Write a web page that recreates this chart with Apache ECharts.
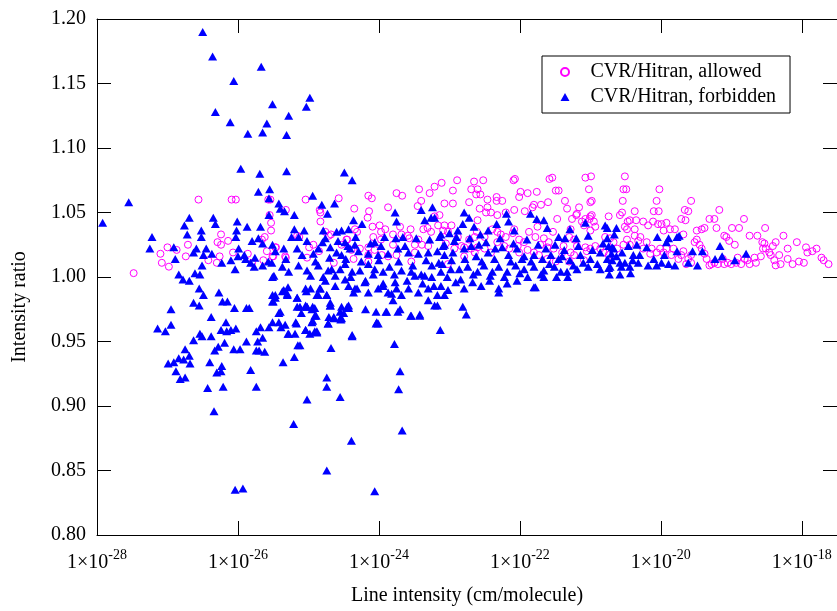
<!DOCTYPE html>
<html>
<head>
<meta charset="utf-8">
<script src="https://cdn.jsdelivr.net/npm/echarts@6/dist/echarts.min.js"></script>
<style>
html,body{margin:0;padding:0;background:#fff;}
#chart{width:837px;height:611px;}
</style>
</head>
<body>
<div id="chart"></div>
<script>
// points are [log10(line intensity), intensity ratio]
// (the x axis is a value axis over log10 of the intensity: echarts' log scale
//  rounds 1e-28 down to 0, so the exponent is plotted and labelled as 1x10^n)
var allowed = [
[-27.48,1.003],[-27.10,1.018],[-27.08,1.011],[-26.98,1.008],[-27.00,1.023],[-26.87,1.021],[-26.71,1.025],[-26.74,1.016],
[-26.56,1.060],[-26.42,1.013],[-26.30,1.011],[-26.29,1.027],[-26.24,1.033],[-26.24,1.025],[-26.26,1.016],[-26.14,1.028],
[-26.07,1.019],[-26.09,1.060],[-26.03,1.060],[-25.86,1.018],[-25.80,1.011],[-25.64,1.013],[-25.62,1.031],[-25.59,1.020],
[-25.57,1.060],[-25.54,1.060],[-25.53,1.036],[-25.53,1.042],[-25.55,1.048],[-25.51,1.016],[-25.46,1.023],[-25.32,1.052],
[-25.32,1.015],[-25.16,1.032],[-25.13,1.031],[-25.04,1.060],[-25.02,1.015],[-24.99,1.023],[-24.93,1.025],[-24.84,1.052],
[-24.83,1.050],[-24.83,1.043],[-24.76,1.035],[-24.71,1.032],[-24.68,1.033],[-24.64,1.011],[-24.57,1.061],[-24.35,1.053],
[-24.45,1.029],[-24.31,1.035],[-24.36,1.014],[-25.66,1.029],
[-24.39,1.021],[-23.97,1.029],[-23.57,1.030],[-23.49,1.025],[-23.39,1.025],[-23.30,1.024],[-25.47,1.023],[-25.50,1.016],
[-25.33,1.016],[-24.85,1.020],[-24.27,1.022],[-24.15,1.017],[-24.06,1.021],[-23.96,1.017],[-23.87,1.016],[-23.80,1.025],
[-23.75,1.017],[-23.54,1.012],[-23.49,1.019],[-24.15,1.012],
[-24.15,1.063],[-24.10,1.061],[-24.16,1.046],[-24.14,1.051],[-24.09,1.039],[-23.99,1.040],[-23.97,1.035],[-23.87,1.054],
[-23.75,1.065],[-23.67,1.063],[-23.70,1.039],[-23.55,1.037],[-23.43,1.068],[-23.40,1.059],[-23.45,1.055],[-23.28,1.065],
[-23.21,1.070],[-23.11,1.073],[-22.95,1.067],[-22.89,1.075],[-23.31,1.038],[-23.21,1.047],[-23.16,1.040],[-23.07,1.057],
[-22.95,1.057],[-22.72,1.058],[-22.65,1.074],[-22.52,1.075],[-22.69,1.068],[-22.60,1.068],[-22.62,1.064],[-22.56,1.064],
[-22.46,1.060],[-22.33,1.062],[-22.25,1.059],[-22.33,1.059],[-22.46,1.054],[-22.57,1.053],[-22.41,1.050],[-22.20,1.050],
[-22.07,1.076],[-22.09,1.075],[-21.99,1.066],[-21.89,1.065],[-22.01,1.062],[-21.76,1.066],[-21.70,1.056],[-21.82,1.054],
[-21.60,1.058],[-21.58,1.076],[-21.54,1.077],[-21.49,1.067],[-21.45,1.067],[-21.36,1.059],[-21.33,1.053],[-21.07,1.077],
[-20.99,1.078],[-21.02,1.068],[-21.00,1.058],[-20.98,1.059],[-21.16,1.054],[-21.19,1.049],[-21.26,1.045],[-20.98,1.048],
[-21.01,1.045],[-21.09,1.040],[-20.51,1.078],[-20.53,1.068],[-20.54,1.059],[-20.55,1.050],[-20.37,1.051],[-20.44,1.044],
[-20.51,1.039],[-20.74,1.047],[-20.93,1.039],[-21.28,1.037],[-21.47,1.045],[-21.53,1.035],[-21.66,1.030],[-21.87,1.035],
[-21.94,1.027],[-22.08,1.037],[-22.20,1.031],[-22.32,1.035],[-22.39,1.037],[-22.50,1.031],[-22.61,1.035],[-22.72,1.029],
[-22.88,1.031],[-23.02,1.035],[-23.05,1.026],[-23.26,1.035],[-23.37,1.037],[-23.44,1.029],[-23.59,1.032],[-23.68,1.033],
[-23.80,1.033],[-23.91,1.037],[-24.08,1.031],[-24.15,1.023],[-24.34,1.037],[-24.46,1.029],[-24.53,1.025],[-22.79,1.023],
[-22.60,1.023],[-22.41,1.019],[-22.01,1.019],[-21.71,1.025],[-21.61,1.023],[-21.05,1.020],[-20.44,1.025],[-20.37,1.037],
[-22.08,1.052],[-21.93,1.051],[-22.48,1.050],[-22.32,1.048],[-22.60,1.044],[-23.09,1.036],[-23.07,1.040],[-23.14,1.048],
[-22.97,1.040],[-21.80,1.056],[-22.64,1.031],[-22.27,1.033],[-22.10,1.034],[-22.01,1.029],[-21.78,1.031],[-21.75,1.039],
[-21.59,1.027],[-21.52,1.022],[-21.40,1.019],[-21.38,1.024],[-21.30,1.031],[-21.23,1.029],[-21.20,1.048],[-21.12,1.043],
[-21.07,1.045],[-21.00,1.047],[-20.95,1.043],[-21.00,1.036],[-21.19,1.024],[-21.07,1.023],[-21.00,1.022],[-20.93,1.024],
[-20.86,1.022],[-20.81,1.019],[-20.79,1.031],[-20.72,1.030],[-20.67,1.027],[-22.83,1.024],[-22.93,1.022],[-22.79,1.016],
[-22.69,1.022],[-22.64,1.019],[-22.50,1.022],[-22.32,1.027],[-22.22,1.024],[-22.15,1.022],[-22.03,1.024],[-21.89,1.021],
[-21.80,1.019],[-21.73,1.017],[-21.61,1.014],[-21.49,1.012],[-21.30,1.012],[-21.23,1.017],[-21.09,1.013],[-21.28,1.019],
[-23.02,1.010],
[-20.49,1.068],[-20.58,1.048],[-20.47,1.043],[-20.48,1.037],[-20.35,1.044],[-20.25,1.043],[-20.18,1.040],[-20.11,1.043],
[-20.02,1.068],[-20.06,1.059],[-20.10,1.051],[-20.03,1.051],[-20.04,1.041],[-19.99,1.041],[-19.92,1.042],[-19.96,1.036],
[-19.87,1.037],[-19.80,1.037],[-19.71,1.045],[-19.65,1.044],[-19.66,1.052],[-19.61,1.051],[-19.57,1.059],[-19.68,1.033],
[-19.49,1.036],[-19.42,1.037],[-19.38,1.038],[-19.31,1.045],[-19.24,1.045],[-19.17,1.052],[-19.21,1.038],[-19.10,1.032],
[-19.07,1.031],[-18.99,1.038],[-18.89,1.038],[-18.82,1.045],[-19.03,1.028],[-18.95,1.025],[-18.74,1.032],[-18.63,1.032],
[-18.52,1.038],[-18.56,1.027],[-18.53,1.026],[-18.37,1.027],[-18.26,1.032],[-18.20,1.022],[-18.07,1.027],[-17.94,1.023],
[-17.92,1.019],[-17.85,1.020],[-17.79,1.022],[-17.72,1.015],[-17.69,1.013],[-17.62,1.010],[-18.04,1.012],[-17.97,1.011],
[-18.13,1.010],[-18.20,1.014],[-18.32,1.017],[-18.30,1.010],[-18.39,1.013],[-18.37,1.009],[-18.46,1.019],[-18.44,1.017],
[-18.55,1.022],[-18.58,1.016],[-18.67,1.015],[-18.65,1.011],[-18.74,1.010],[-18.77,1.013],[-18.81,1.014],[-18.86,1.010],
[-18.91,1.015],[-18.93,1.011],[-19.00,1.010],[-19.05,1.011],[-19.10,1.010],[-19.12,1.014],[-19.19,1.010],[-19.24,1.011],
[-19.28,1.010],[-19.31,1.009],[-19.35,1.014],[-19.38,1.018],[-19.42,1.022],[-19.45,1.025],[-19.49,1.029],[-19.52,1.027],
[-19.57,1.017],[-19.57,1.011],[-19.61,1.014],[-19.64,1.010],[-19.68,1.020],[-19.71,1.017],[-19.75,1.014],[-19.82,1.022],
[-19.85,1.017],[-19.92,1.022],[-19.96,1.019],[-20.01,1.022],[-20.06,1.019],[-20.13,1.022],[-20.15,1.018],[-20.20,1.027],
[-20.25,1.022],[-20.29,1.031],[-20.32,1.028],[-20.37,1.032],[-20.48,1.029],[-20.53,1.025],[-20.62,1.022],[-20.67,1.019],
[-20.74,1.017],[-18.41,1.024],[-18.51,1.022]
];

var forbidden = [
[-27.92,1.042],[-27.55,1.058],[-26.50,1.190],[-26.36,1.171],[-26.06,1.152],[-26.32,1.128],[-26.11,1.120],[-25.67,1.163],
[-25.51,1.134],[-25.59,1.119],[-25.65,1.112],[-25.86,1.111],[-25.28,1.125],[-25.31,1.110],[-24.98,1.139],[-25.03,1.132],
[-25.96,1.084],[-25.31,1.082],[-25.69,1.080],[-24.49,1.081],[-24.38,1.075],[-25.71,1.066],[-25.55,1.068],[-24.94,1.063],
[-25.56,1.061],[-25.42,1.057],[-25.40,1.053],[-25.34,1.051],[-25.20,1.048],[-24.81,1.056],[-24.73,1.049],[-24.63,1.057],
[-27.14,0.960],[-27.03,0.958],[-26.95,0.975],[-26.95,0.963],[-26.99,0.933],[-26.91,0.934],[-26.88,0.927],[-26.84,0.937],
[-26.82,0.921],[-26.75,0.922],[-26.77,0.936],[-26.75,0.944],[-26.69,0.939],[-26.68,0.933],[-26.63,0.951],[-26.63,0.980],
[-26.55,0.978],[-26.55,0.991],[-26.49,0.986],[-26.54,0.956],[-26.51,0.954],[-26.38,0.969],[-26.38,0.954],[-26.40,0.934],
[-26.43,0.914],[-26.34,0.896],[-26.33,0.943],[-26.30,0.926],[-26.28,0.946],[-26.24,0.927],[-26.23,0.931],[-26.21,0.915],
[-26.27,0.988],[-26.22,0.981],[-26.15,0.981],[-26.24,0.959],[-26.19,0.949],[-26.17,0.965],[-26.16,0.958],[-26.10,0.959],
[-26.03,0.960],[-26.05,0.976],[-26.06,0.944],[-25.97,0.944],[-26.04,0.835],[-25.93,0.836],[-25.88,0.976],[-25.84,0.976],
[-25.88,0.950],[-25.82,0.928],[-25.74,0.958],[-25.72,0.950],[-25.74,0.943],[-25.70,0.943],[-25.68,0.961],[-25.65,0.953],
[-25.62,0.942],[-25.74,0.915],[-25.56,0.961],[-25.51,0.965],[-25.50,0.981],[-25.47,0.984],[-25.42,0.972],[-25.39,0.961],
[-25.36,0.934],[-25.33,0.963],[-25.29,0.956],[-25.30,0.987],[-25.37,0.989],[-25.29,0.992],[-25.21,0.886],[-25.19,0.956],
[-25.20,0.938],[-25.17,0.964],[-25.15,0.947],[-25.12,0.947],[-25.16,0.984],[-25.12,0.977],[-25.10,0.972],[-25.03,0.989],
[-25.02,0.905],[-25.04,0.959],[-25.02,0.977],[-24.98,0.956],[-24.94,0.977],[-24.94,0.966],[-24.91,0.976],[-24.89,0.970],
[-24.88,0.958],[-24.88,0.986],[-24.84,0.991],[-24.76,0.997],[-24.74,0.986],[-24.74,0.922],[-24.74,0.915],[-24.74,0.850],
[-24.72,0.964],[-24.71,0.969],[-24.69,0.978],[-24.68,0.945],[-24.64,0.968],[-24.55,0.907],[-24.54,0.967],[-24.50,0.972],
[-24.45,0.977],[-24.43,0.976],[-24.38,0.954],[-24.39,0.873],
[-24.06,0.834],[-23.78,0.948],[-23.70,0.927],[-23.72,0.913],[-23.67,0.881],[-23.13,0.959],[-22.81,0.977],[-22.76,0.971],
[-23.55,0.970],[-23.42,0.971],[-23.90,0.973],[-24.03,0.965],[-24.53,0.968],[-21.78,0.992],[-23.73,0.973],[-23.17,0.978],
[-23.77,1.050],[-23.75,1.043],[-24.36,1.044],[-24.24,1.041],[-23.40,1.052],[-23.24,1.054],[-23.35,1.044],[-23.26,1.046],
[-23.21,1.046],[-23.14,1.031],[-25.20,1.037],[-25.06,1.036],[-24.79,1.036],[-24.53,1.036],[-24.43,1.037],[-25.24,1.031],
[-25.14,1.031],[-25.02,1.028],[-24.76,1.030],[-24.60,1.035],[-24.48,1.027],[-24.44,1.024],[-24.34,1.025],[-24.06,1.027],
[-23.97,1.024],[-23.76,1.030],[-23.66,1.031],[-25.47,1.020],[-25.35,1.022],[-25.52,1.011],[-25.32,1.014],[-25.16,1.022],
[-25.09,1.017],[-24.93,1.018],[-24.86,1.022],[-24.69,1.023],[-24.60,1.019],[-24.53,1.017],[-24.41,1.022],[-24.29,1.020],
[-24.15,1.018],[-24.01,1.017],[-23.87,1.018],[-23.73,1.022],[-23.58,1.019],[-23.44,1.018],[-23.30,1.019],[-23.17,1.020],
[-23.07,1.017],[-25.49,1.001],[-25.37,1.008],[-25.28,1.004],[-25.14,1.009],[-25.02,1.005],[-24.97,1.001],[-24.86,1.009],
[-24.79,1.000],[-24.72,1.005],[-24.55,1.006],[-24.48,1.010],[-24.38,1.004],[-24.27,1.005],[-24.15,1.010],[-24.06,1.006],
[-23.94,1.004],[-23.78,1.002],[-23.68,1.005],[-23.54,1.004],[-23.40,1.002],[-23.25,1.000],[-23.12,1.004],[-25.47,0.986],
[-25.35,0.990],[-25.30,0.986],[-25.16,0.984],[-24.97,0.991],[-24.86,0.986],[-24.74,0.986],[-24.62,0.993],[-24.43,0.993],
[-24.36,0.988],[-24.31,0.991],[-24.19,0.997],[-24.15,0.988],[-24.01,0.991],[-23.94,0.995],[-23.87,0.988],[-23.75,0.991],
[-23.68,0.986],[-23.58,0.991],[-23.44,0.988],[-23.30,0.991],[-23.17,0.986],[-25.40,0.973],[-25.16,0.977],[-25.02,0.977],
[-24.91,0.970],[-24.69,0.978],[-24.55,0.973],[-24.43,0.978],[-24.19,0.975],[-24.04,0.973],[-23.89,0.973],[-23.70,0.975],
[-23.54,0.970],[-23.42,0.970],[-25.42,0.965],[-25.18,0.965],[-24.95,0.965],[-24.72,0.964],[-24.55,0.968],[-24.38,0.955],
[-24.01,0.964],[-25.28,0.956],[-25.04,0.959],[-24.91,0.958],
[-25.56,1.048],[-26.69,1.046],[-26.76,1.040],[-26.35,1.046],[-26.32,1.041],[-26.52,1.036],[-26.52,1.031],[-26.72,1.033],
[-27.22,1.031],[-27.25,1.022],[-26.91,1.023],[-26.89,1.014],[-26.01,1.043],[-26.02,1.036],[-26.03,1.031],[-25.87,1.039],
[-25.68,1.039],[-25.80,1.028],[-25.71,1.030],[-25.65,1.026],[-25.51,1.025],[-25.99,1.022],[-25.91,1.017],[-25.89,1.014],
[-25.76,1.015],[-25.82,1.011],[-25.77,1.008],[-25.65,1.009],[-25.57,1.012],[-26.59,1.022],[-26.63,1.019],[-26.45,1.022],
[-26.37,1.018],[-26.49,1.017],[-26.51,1.009],[-26.23,1.011],[-26.10,1.013],[-26.04,1.006],[-26.84,1.002],[-26.78,0.998],
[-26.69,0.997],[-26.61,1.003],[-26.54,1.002],[-25.51,0.986],[-25.51,0.981],[-25.51,1.000],[-26.00,1.016],
[-25.04,0.991],[-24.83,0.991],[-25.04,0.978],[-24.95,0.975],[-24.69,0.980],[-24.53,0.977],[-24.88,0.957],[-24.04,0.964],
[-24.64,0.969],[-24.67,1.006],[-24.48,0.998],[-24.34,0.991],[-23.94,0.993],[-23.77,0.996],[-23.82,0.987],[-23.30,0.982],
[-23.21,0.978],[-23.35,1.001],[-23.49,1.001],[-23.25,1.009],
[-22.79,1.050],[-22.72,1.046],[-22.81,1.041],[-22.88,1.036],[-23.00,1.034],[-23.12,1.033],[-23.07,1.025],[-22.93,1.028],
[-22.65,1.039],[-22.56,1.033],[-22.45,1.036],[-22.33,1.041],[-22.19,1.049],[-22.16,1.043],[-22.08,1.036],[-21.85,1.049],
[-21.76,1.045],[-21.66,1.044],[-21.61,1.038],[-21.45,1.031],[-21.29,1.037],[-21.20,1.030],[-21.07,1.042],[-21.03,1.032],
[-20.79,1.040],[-20.76,1.030],[-21.36,1.030],[-22.95,1.019],[-22.79,1.022],[-22.69,1.024],[-22.58,1.025],[-22.45,1.019],
[-22.35,1.022],[-22.25,1.023],[-22.16,1.017],[-22.04,1.022],[-21.94,1.016],[-21.80,1.017],[-21.68,1.014],[-21.56,1.017],
[-21.45,1.014],[-21.40,1.016],[-21.29,1.013],[-21.14,1.017],[-21.00,1.014],[-20.86,1.019],[-20.76,1.014],[-20.67,1.022],
[-23.10,1.010],[-22.98,1.006],[-22.86,1.006],[-22.74,1.008],[-22.60,1.004],[-22.51,1.009],[-22.39,1.004],[-22.30,1.008],
[-22.18,1.004],[-22.06,1.009],[-21.94,1.006],[-21.80,1.008],[-21.66,1.005],[-21.51,1.008],[-21.33,1.004],[-21.19,1.006],
[-21.03,1.008],[-20.86,1.006],[-20.72,1.008],[-23.12,0.993],[-23.02,0.990],[-22.91,0.996],[-22.79,0.991],[-22.67,0.996],
[-22.55,0.993],[-22.43,0.997],[-22.30,0.991],[-22.18,0.995],[-22.04,0.997],[-21.80,0.992],[-21.89,1.000],[-21.66,1.000],
[-21.48,1.000],[-21.32,1.000],[-23.07,0.986],[-22.30,0.988],
[-20.76,1.038],[-20.63,1.038],[-20.66,1.033],[-20.74,1.024],[-20.69,1.023],[-20.46,1.024],[-20.34,1.025],[-20.05,1.031],
[-19.92,1.027],[-19.89,1.030],[-19.77,1.031],[-19.74,1.032],[-19.77,1.020],[-19.55,1.020],[-19.41,1.020],[-19.16,1.024],
[-18.79,1.018],[-18.95,1.013],[-19.23,1.014],[-19.13,1.016],[-19.48,1.009],[-19.61,1.011],[-20.63,1.016],[-20.69,1.013],
[-20.58,1.011],[-20.51,1.011],[-20.39,1.017],[-20.30,1.017],[-20.32,1.011],[-20.18,1.009],[-20.06,1.009],[-19.99,1.011],
[-19.89,1.010],[-19.80,1.009],[-20.44,1.008],[-20.43,1.003],[-20.56,1.008],[-20.74,1.007],[-20.73,1.002],[-20.58,1.002],
[-24.90,1.012],[-24.80,1.027],[-24.70,1.015],[-24.62,1.001],[-24.58,1.028],[-24.47,1.014],[-24.40,1.000],[-24.33,1.031],
[-24.25,1.012],[-24.20,0.996],[-24.12,1.026],[-24.08,1.002],[-24.00,1.013],[-23.92,1.031],[-23.85,1.008],[-23.80,0.982],
[-23.72,1.012],[-23.63,1.024],[-23.60,0.997],[-23.52,1.009],[-23.47,1.030],[-23.38,0.995],[-23.33,1.013],[-23.28,1.029],
[-23.22,0.993],[-23.15,1.011],[-23.09,1.024],[-23.03,1.000],[-22.97,1.013],[-22.90,1.031],[-22.84,0.998],[-22.78,1.014],
[-22.71,1.030],[-22.66,1.002],[-22.62,1.016],[-22.54,1.012],[-22.48,1.027],[-22.42,1.001],[-22.36,1.014],[-22.28,1.030],
[-22.22,1.000],[-22.13,1.012],[-22.09,1.026],[-22.00,1.003],[-21.97,1.014],[-21.90,1.029],[-21.84,1.012],[-21.74,1.025],
[-21.70,1.002],[-21.63,1.022],[-21.58,1.010],[-21.50,1.025],[-21.42,1.004],[-21.37,1.021],[-21.24,1.009],[-21.17,1.024],
[-21.10,1.011],[-20.97,1.021],[-20.90,1.010],[-20.82,1.026],[-20.70,1.018],[-20.55,1.019],[-20.40,1.013],[-20.20,1.023],
[-20.10,1.014],[-19.95,1.017]
];

// log10 of the intensity range and tick step (decades)
var x_ticks = {min: -28, max: -17.5, step: 2};
var y_ticks = {min: 0.80, max: 1.20, step: 0.05};

var serif = 'Liberation Serif';

function exp_label(v){
	var r = Math.round(v);
	if (Math.abs(v - r) > 0.01) return '';
	return '{m|1\u00d710}{s|' + r + '}';
}

var frame_axis = {
	axisLine: {show: true, onZero: false, lineStyle: {color: '#000', width: 1}},
	axisTick: {show: true, inside: true, length: 14, lineStyle: {color: '#000', width: 1}},
	splitLine: {show: false},
	minorTick: {show: false}
};

var x_base = Object.assign({
	type: 'value',
	min: x_ticks.min,
	max: x_ticks.max,
	interval: x_ticks.step
}, frame_axis);

var y_base = Object.assign({
	type: 'value',
	min: y_ticks.min,
	max: y_ticks.max,
	interval: y_ticks.step
}, frame_axis);

var option = {
	animation: false,
	backgroundColor: '#fff',
	grid: {left: 97, top: 19, width: 744.5, height: 519.5, containLabel: false},
	xAxis: [
		Object.assign({}, x_base, {
			position: 'bottom',
			name: 'Line intensity (cm/molecule)',
			nameLocation: 'middle',
			nameGap: 51,
			nameTextStyle: {fontFamily: serif, fontSize: 20, color: '#000'},
			axisLabel: {
				show: true,
				margin: 13,
				showMaxLabel: false,
				formatter: exp_label,
				rich: {
					m: {fontFamily: serif, fontSize: 20, color: '#000'},
					s: {fontFamily: serif, fontSize: 14, color: '#000', padding: [0, 0, 15, 0]}
				}
			}
		}),
		Object.assign({}, x_base, {position: 'top', axisLabel: {show: false}})
	],
	yAxis: [
		Object.assign({}, y_base, {
			position: 'left',
			axisLabel: {
				show: true,
				margin: 11,
				fontFamily: serif,
				fontSize: 20,
				color: '#000',
				formatter: function(v){ return v.toFixed(2); }
			}
		}),
		Object.assign({}, y_base, {position: 'right', axisLabel: {show: false}})
	],
	legend: {
		orient: 'vertical',
		left: 542,
		top: 56,
		padding: [6, 14, 6, 18],
		itemGap: 5,
		itemWidth: 9,
		itemHeight: 8,
		borderColor: '#000',
		borderWidth: 1,
		backgroundColor: '#fff',
		textStyle: {fontFamily: serif, fontSize: 20, color: '#000', lineHeight: 20, padding: [0, 0, 0, 16]},
		data: ['CVR/Hitran, allowed', 'CVR/Hitran, forbidden']
	},
	graphic: [{
		type: 'text',
		x: 20,
		y: 307,
		rotation: Math.PI / 2,
		style: {
			text: 'Intensity ratio',
			font: '20px "Liberation Serif"',
			fill: '#000',
			align: 'center',
			verticalAlign: 'middle'
		}
	}],
	series: [
		{
			name: 'CVR/Hitran, allowed',
			type: 'scatter',
			symbol: 'circle',
			symbolSize: 7,
			silent: true,
			itemStyle: {color: 'rgba(0,0,0,0)', borderColor: '#ff00ff', borderWidth: 1, opacity: 1},
			data: allowed
		},
		{
			name: 'CVR/Hitran, forbidden',
			type: 'scatter',
			symbol: 'triangle',
			symbolSize: [9, 8],
			silent: true,
			itemStyle: {color: '#0000ff', opacity: 1},
			data: forbidden
		}
	]
};

var chart = echarts.init(document.getElementById('chart'), null, {renderer: 'canvas'});
chart.setOption(option);
</script>
</body>
</html>
